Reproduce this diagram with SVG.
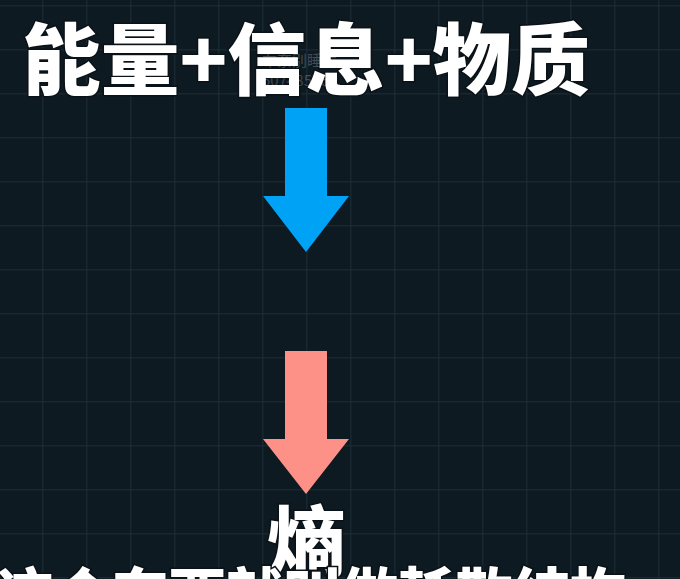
<svg xmlns="http://www.w3.org/2000/svg" width="680" height="579" viewBox="0 0 680 579">
  <defs>
    <pattern id="grid" x="42.3" y="5.3" width="44" height="44" patternUnits="userSpaceOnUse">
      <path d="M0.5 0 V44 M0 0.5 H44" fill="none" stroke="#1e2d36" stroke-width="1"/>
    </pattern>
    <style>
      .big { font-family: "Noto Sans CJK SC", "Noto Sans", sans-serif; font-weight: 900; fill: #ffffff; stroke: #0a1217; stroke-width: 3; paint-order: stroke; }
      .wm { font-family: "Noto Sans CJK SC", "Noto Sans", sans-serif; fill: #ffffff; fill-opacity: 0.22; font-size: 15px; }
    </style>
  </defs>
  <rect x="0" y="0" width="680" height="579" fill="#0e1a21"/>
  <rect x="0" y="0" width="680" height="579" fill="url(#grid)"/>

  <g id="title">
    <text class="big" x="22" y="89" font-size="78" textLength="568" lengthAdjust="spacingAndGlyphs">能量+信息+物质</text>
  </g>
  <g id="watermark">
    <text class="wm" x="262" y="66">布奈别睡熊</text>
    <text class="wm" x="262" y="86">50748576</text>
  </g>

  <g id="connectors">
    <polygon id="arrow-blue" points="285,108 327,108 327,196 349,196 306,252 263,196 285,196" fill="#00a2f6"/>
    <polygon id="arrow-pink" points="285,351 327,351 327,439 349,439 306,494 263,439 285,439" fill="#fd9188"/>
  </g>

  <g id="entropy">
    <text class="big" x="306" y="571" font-size="78" text-anchor="middle">熵</text>
  </g>

  <g id="caption">
    <text class="big" x="-3" y="615" font-size="57" textLength="630" lengthAdjust="spacingAndGlyphs">这个东西就叫做耗散结构</text>
  </g>
</svg>
